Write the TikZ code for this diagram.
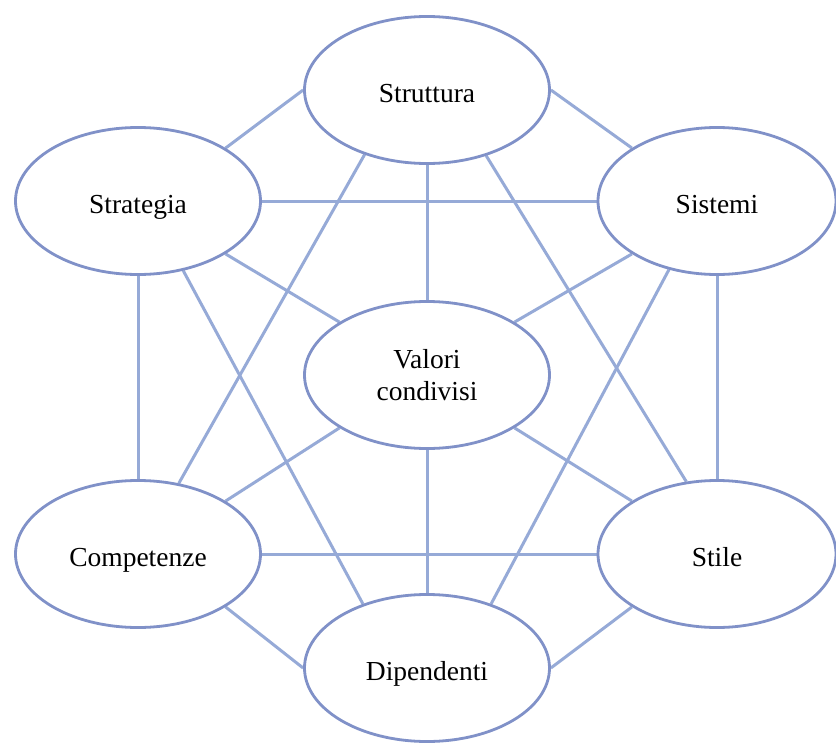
\documentclass[tikz,border=0pt]{standalone}
\usepackage{fontspec}
\setmainfont{Liberation Serif}
\usetikzlibrary{shapes.geometric,backgrounds}
\definecolor{rimblue}{RGB}{128,145,200}
\definecolor{linkblue}{RGB}{150,170,215}
\begin{document}
\begin{tikzpicture}[x=1pt,y=-1pt,
  sfield/.style={ellipse, draw=rimblue, line width=2.8pt, fill=white,
    minimum width=245pt, minimum height=147pt, inner sep=0pt,
    font=\fontsize{27.5pt}{32pt}\selectfont},
  oneline/.style={sfield, text height=25pt, text depth=0pt},
  narrow/.style={minimum width=238pt},
  link/.style={draw=linkblue, line width=3pt}]
\useasboundingbox (0,0) rectangle (836,744);

% the seven elements
\node[oneline] (str) at (427,90) {Struttura};
\node[oneline] (stg) at (138,201) {Strategia};
\node[oneline, narrow] (sis) at (717,201) {Sistemi};
\node[sfield, align=center] (val) at (427,375) {Valori\\condivisi};
\node[oneline] (com) at (138,554) {Competenze};
\node[oneline, narrow] (sti) at (717,554) {Stile};
\node[oneline] (dip) at (427,668) {Dipendenti};

% links between the elements
\begin{scope}[on background layer]
\draw[link] (str.west) -- (stg.north east);
\draw[link] (str.east) -- (sis.north west);
\draw[link] (str.south) -- (val.north);
\draw[link] (str.226) -- (com.60);
\draw[link] (str.-48) -- (sti.113);
\draw[link] (stg.east) -- (sis.west);
\draw[link] (stg.south east) -- (val.north west);
\draw[link] (stg.south) -- (com.north);
\draw[link] (stg.-57) -- (dip.135);
\draw[link] (sis.south west) -- (val.north east);
\draw[link] (sis.south) -- (sti.north);
\draw[link] (sis.235) -- (dip.45);
\draw[link] (val.south west) -- (com.north east);
\draw[link] (val.south east) -- (sti.north west);
\draw[link] (val.south) -- (dip.north);
\draw[link] (com.east) -- (sti.west);
\draw[link] (com.south east) -- (dip.west);
\draw[link] (sti.south west) -- (dip.east);
\end{scope}
\end{tikzpicture}
\end{document}
